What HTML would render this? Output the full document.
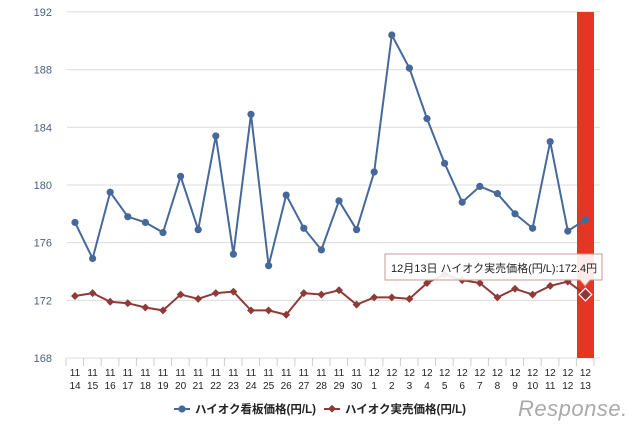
<!DOCTYPE html>
<html><head><meta charset="utf-8"><style>
html,body{margin:0;padding:0;background:#fff;width:640px;height:426px;overflow:hidden}
svg text{font-family:"Liberation Sans","Noto Sans CJK JP",sans-serif}
</style></head><body>
<svg id="s" width="640" height="426" xmlns="http://www.w3.org/2000/svg"></svg>
<script>
var blue=[177.4,174.9,179.5,177.8,177.4,176.7,180.6,176.9,183.4,175.2,184.9,174.4,179.3,177.0,175.5,178.9,176.9,180.9,190.4,188.1,184.6,181.5,178.8,179.9,179.4,178.0,177.0,183.0,176.8,177.6];
var red=[172.3,172.5,171.9,171.8,171.5,171.3,172.4,172.1,172.5,172.6,171.3,171.3,171.0,172.5,172.4,172.7,171.7,172.2,172.2,172.1,173.2,173.8,173.4,173.2,172.2,172.8,172.4,173.0,173.3,172.4];
var lab=["11/14","11/15","11/16","11/17","11/18","11/19","11/20","11/21","11/22","11/23","11/24","11/25","11/26","11/27","11/28","11/29","11/30","12/1","12/2","12/3","12/4","12/5","12/6","12/7","12/8","12/9","12/10","12/11","12/12","12/13"];
function X(i){return 75+i*17.6}
function Y(v){return 358-(v-168)*14.42}
var h='';
for(var v=168;v<=192;v+=4){var y=Y(v);h+='<line x1="67" x2="600" y1="'+y+'" y2="'+y+'" stroke="#dcdcdc" stroke-width="1"/>';h+='<text x="52" y="'+(y+4)+'" font-size="11" fill="#4b5f7e" text-anchor="end">'+v+'</text>';}
h+='<rect x="577" y="12" width="17" height="346" fill="#e53525"/>';
for(var i=0;i<=30;i++){var x=66+i*17.6;h+='<line x1="'+x+'" x2="'+x+'" y1="358" y2="366" stroke="#ccc"/>';}
for(var i=0;i<30;i++){var p=lab[i].split('/');h+='<text x="'+X(i)+'" y="376" font-size="10" fill="#222" text-anchor="middle">'+p[0]+'</text><text x="'+X(i)+'" y="389" font-size="10" fill="#222" text-anchor="middle">'+p[1]+'</text>';}
var pb=blue.map(function(v,i){return X(i)+','+Y(v)}).join(' ');
h+='<polyline points="'+pb+'" fill="none" stroke="#46699a" stroke-width="2"/>';
blue.forEach(function(v,i){h+='<circle cx="'+X(i)+'" cy="'+Y(v)+'" r="3.6" fill="#46699a"/>';});
var pr=red.map(function(v,i){return X(i)+','+Y(v)}).join(' ');
h+='<polyline points="'+pr+'" fill="none" stroke="#8e3b37" stroke-width="2"/>';
red.forEach(function(v,i){if(i<29)h+='<rect x="'+(X(i)-2.8)+'" y="'+(Y(v)-2.8)+'" width="5.6" height="5.6" fill="#8e3b37" transform="rotate(45 '+X(i)+' '+Y(v)+')"/>';});
var lx=X(29),ly=Y(172.4);
h+='<rect x="'+(lx-4.5)+'" y="'+(ly-4.5)+'" width="9" height="9" fill="#8e3b37" stroke="#fff" stroke-width="1.2" transform="rotate(45 '+lx+' '+ly+')"/>';
h+='<path d="M385,254 H602 V280 H590 L585,286 L580,280 H385 Z" fill="rgba(255,255,255,0.9)" stroke="#c79a96" stroke-width="1"/>';
h+='<text x="391" y="272" font-size="11" fill="#222">12月13日 ハイオク実売価格(円/L):172.4円</text>';
h+='<line x1="174" x2="190" y1="409" y2="409" stroke="#46699a" stroke-width="2"/><circle cx="182" cy="409" r="3.6" fill="#46699a"/>';
h+='<text x="195" y="413" font-size="11.5" font-weight="bold" fill="#222">ハイオク看板価格(円/L)</text>';
h+='<line x1="324" x2="340" y1="409" y2="409" stroke="#8e3b37" stroke-width="2"/><rect x="329" y="406" width="5.6" height="5.6" fill="#8e3b37" transform="rotate(45 332 409)"/>';
h+='<text x="345" y="413" font-size="11.5" font-weight="bold" fill="#222">ハイオク実売価格(円/L)</text>';
h+='<text x="518" y="416" font-size="22" font-style="italic" fill="#aaa" letter-spacing="0.5">Response.</text>';
document.getElementById('s').innerHTML=h;
</script>
</body></html>
